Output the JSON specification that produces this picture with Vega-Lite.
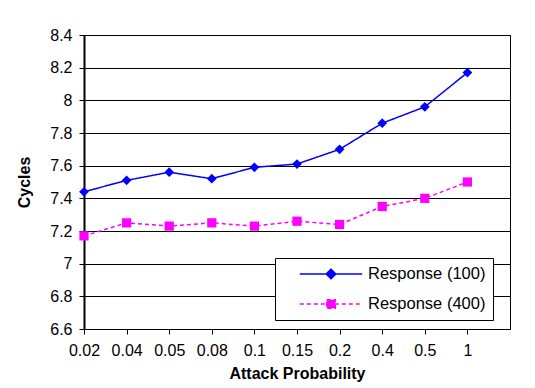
{
  "$schema": "https://vega.github.io/schema/vega-lite/v6.json",
  "width": 426,
  "height": 294,
  "autosize": {"type": "none"},
  "padding": {"left": 84, "top": 35, "right": 25, "bottom": 59},
  "background": "white",
  "config": {
    "font": "Liberation Sans",
    "view": {"stroke": "#000000", "strokeWidth": 1},
    "axis": {
      "labelColor": "#000000",
      "titleColor": "#000000",
      "tickColor": "#000000",
      "domainColor": "#000000",
      "labelFontSize": 16,
      "titleFontSize": 16,
      "titleFontWeight": "bold",
      "tickSize": 5
    }
  },
  "data": {
    "values": [
      {"p": "0.02", "series": "Response (100)", "cycles": 7.44},
      {"p": "0.04", "series": "Response (100)", "cycles": 7.51},
      {"p": "0.05", "series": "Response (100)", "cycles": 7.56},
      {"p": "0.08", "series": "Response (100)", "cycles": 7.52},
      {"p": "0.1", "series": "Response (100)", "cycles": 7.59},
      {"p": "0.15", "series": "Response (100)", "cycles": 7.61},
      {"p": "0.2", "series": "Response (100)", "cycles": 7.70},
      {"p": "0.4", "series": "Response (100)", "cycles": 7.86},
      {"p": "0.5", "series": "Response (100)", "cycles": 7.96},
      {"p": "1", "series": "Response (100)", "cycles": 8.17},
      {"p": "0.02", "series": "Response (400)", "cycles": 7.17},
      {"p": "0.04", "series": "Response (400)", "cycles": 7.25},
      {"p": "0.05", "series": "Response (400)", "cycles": 7.23},
      {"p": "0.08", "series": "Response (400)", "cycles": 7.25},
      {"p": "0.1", "series": "Response (400)", "cycles": 7.23},
      {"p": "0.15", "series": "Response (400)", "cycles": 7.26},
      {"p": "0.2", "series": "Response (400)", "cycles": 7.24},
      {"p": "0.4", "series": "Response (400)", "cycles": 7.35},
      {"p": "0.5", "series": "Response (400)", "cycles": 7.40},
      {"p": "1", "series": "Response (400)", "cycles": 7.50}
    ]
  },
  "encoding": {
    "x": {
      "field": "p",
      "type": "nominal",
      "sort": null,
      "scale": {"type": "point", "padding": 0.5, "align": 0},
      "axis": {
        "title": "Attack Probability",
        "labelAngle": 0,
        "grid": false,
        "labelPadding": 8,
        "titlePadding": 7,
        "domainWidth": 1
      }
    },
    "y": {
      "field": "cycles",
      "type": "quantitative",
      "scale": {"domain": [6.6, 8.4], "zero": false, "nice": false},
      "axis": {
        "title": "Cycles",
        "values": [6.6, 6.8, 7, 7.2, 7.4, 7.6, 7.8, 8, 8.2, 8.4],
        "format": "~g",
        "grid": true,
        "gridColor": "#000000",
        "gridWidth": 1,
        "gridOpacity": 1,
        "domainWidth": 2,
        "labelPadding": 7,
        "titlePadding": 17
      }
    },
    "color": {
      "field": "series",
      "type": "nominal",
      "scale": {"domain": ["Response (100)", "Response (400)"], "range": ["#0000ff", "#ff00ff"]},
      "legend": {
        "title": null,
        "orient": "none",
        "legendX": 191,
        "legendY": 223,
        "fillColor": "white",
        "strokeColor": "#000000",
        "padding": 7,
        "rowPadding": 12,
        "labelFontSize": 16.5,
        "labelColor": "#000000",
        "labelFont": "Liberation Sans",
        "symbolSize": 256,
        "symbolOffset": 40,
        "labelOffset": 28,
        "symbolStrokeWidth": 1.5,
        "symbolOpacity": 1,
        "encode": {
          "symbols": {
            "update": {
              "shape": {"signal": "datum.value === 'Response (100)' ? 'M-3.9,0H3.9M0,-0.6L0.6,0L0,0.6L-0.6,0Z' : 'M-3.9,0H3.9M-0.54,-0.54H0.54V0.54H-0.54Z'"},
              "fill": {"signal": "datum.value === 'Response (100)' ? '#0000ff' : '#ff00ff'"},
              "stroke": {"signal": "datum.value === 'Response (100)' ? '#0000ff' : '#ff00ff'"},
              "strokeDash": {"signal": "datum.value === 'Response (100)' ? [1, 0] : [4, 3]"}
            }
          }
        }
      }
    }
  },
  "layer": [
    {
      "mark": {"type": "line", "strokeWidth": 1.5},
      "encoding": {
        "strokeDash": {
          "field": "series",
          "type": "nominal",
          "scale": {"domain": ["Response (100)", "Response (400)"], "range": [[1, 0], [4, 3]]},
          "legend": null
        }
      }
    },
    {
      "transform": [{"filter": "datum.series === 'Response (100)'"}],
      "mark": {"type": "point", "shape": "diamond", "filled": true, "opacity": 1, "size": 95}
    },
    {
      "transform": [{"filter": "datum.series === 'Response (400)'"}],
      "mark": {"type": "point", "shape": "square", "filled": true, "opacity": 1, "size": 85}
    }
  ]
}
